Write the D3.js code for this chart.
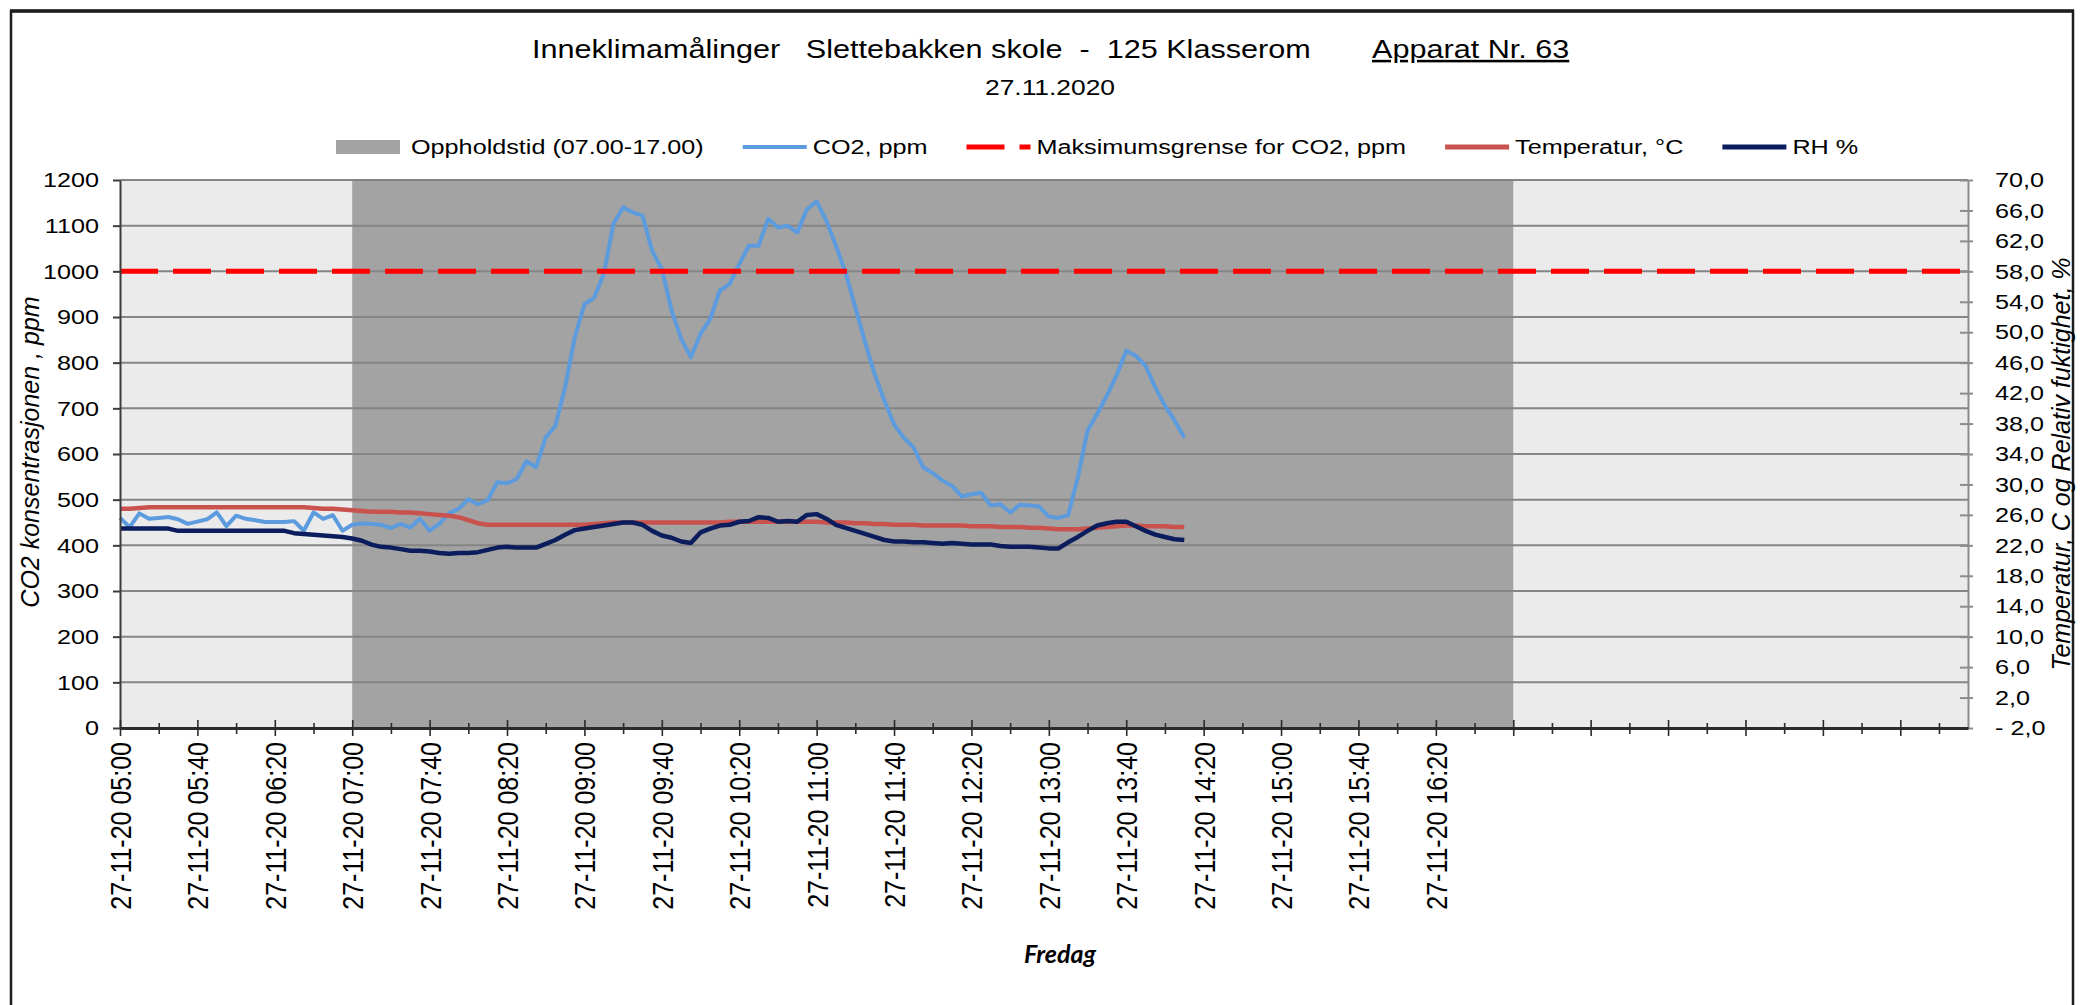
<!DOCTYPE html>
<html>
<head>
<meta charset="utf-8">
<script src="https://cdn.jsdelivr.net/npm/d3@7"></script>
<style>
    body { margin: 0; background: #fff; }
    svg text { font-family: "Liberation Sans", Arial, sans-serif; fill: #000; }
</style>
</head>
<body>
<svg id="chart" width="2084" height="1005"></svg>
<script>
// 5-minute readings from 05:00, one per category slot
const co2 = [460, 440, 470, 458, 460, 462, 457, 447, 452, 457, 472, 442, 465, 458, 455, 451, 451, 451, 453, 432,
    472, 458, 466, 432, 445, 448, 447, 445, 438, 447, 439, 458, 432, 447, 470, 480, 501, 490, 499, 538,
    536, 545, 584, 571, 636, 662, 746, 855, 928, 942, 994, 1104, 1140, 1129, 1122, 1045, 1005, 915, 852, 812,
    863, 896, 958, 972, 1016, 1056, 1056, 1115, 1096, 1100, 1085, 1136, 1153, 1111, 1056, 997, 921, 845, 775, 717,
    665, 636, 615, 571, 558, 542, 530, 507, 512, 515, 487, 490, 472, 489, 487, 485, 463, 460, 466, 549,
    651, 688, 728, 772, 826, 815, 793, 746, 706, 673, 636];

const temperature = [26.8, 26.8, 26.9, 27.0, 27.0, 27.0, 27.0, 27.0, 27.0, 27.0, 27.0, 27.0, 27.0, 27.0, 27.0, 27.0, 27.0, 27.0, 27.0, 27.0,
    26.9, 26.8, 26.8, 26.7, 26.6, 26.5, 26.4, 26.4, 26.4, 26.3, 26.3, 26.2, 26.1, 26.0, 25.9, 25.7, 25.3, 24.9, 24.7, 24.7,
    24.7, 24.7, 24.7, 24.7, 24.7, 24.7, 24.7, 24.7, 24.7, 24.8, 24.9, 25.0, 25.0, 25.0, 25.0, 25.0, 25.0, 25.0, 25.0, 25.0,
    25.0, 25.0, 25.0, 25.1, 25.1, 25.1, 25.1, 25.1, 25.1, 25.1, 25.1, 25.1, 25.1, 25.0, 25.0, 25.0, 24.9, 24.9, 24.8, 24.8,
    24.7, 24.7, 24.7, 24.6, 24.6, 24.6, 24.6, 24.6, 24.5, 24.5, 24.5, 24.4, 24.4, 24.4, 24.3, 24.3, 24.2, 24.1, 24.1, 24.1,
    24.2, 24.3, 24.4, 24.5, 24.6, 24.6, 24.5, 24.5, 24.5, 24.4, 24.4];

const humidity = [24.2, 24.2, 24.2, 24.2, 24.2, 24.2, 23.9, 23.9, 23.9, 23.9, 23.9, 23.9, 23.9, 23.9, 23.9, 23.9, 23.9, 23.9, 23.6, 23.5,
    23.4, 23.3, 23.2, 23.1, 22.9, 22.6, 22.1, 21.8, 21.7, 21.5, 21.3, 21.3, 21.2, 21.0, 20.9, 21.0, 21.0, 21.1, 21.4, 21.7,
    21.8, 21.7, 21.7, 21.7, 22.2, 22.7, 23.4, 24.0, 24.2, 24.4, 24.6, 24.8, 25.0, 25.0, 24.7, 23.9, 23.3, 23.0, 22.5, 22.3,
    23.7, 24.2, 24.6, 24.7, 25.1, 25.2, 25.7, 25.6, 25.1, 25.2, 25.1, 26.0, 26.1, 25.5, 24.7, 24.3, 23.9, 23.5, 23.1, 22.7,
    22.5, 22.5, 22.4, 22.4, 22.3, 22.2, 22.3, 22.2, 22.1, 22.1, 22.1, 21.9, 21.8, 21.8, 21.8, 21.7, 21.6, 21.6, 22.4, 23.1,
    23.9, 24.6, 24.9, 25.1, 25.1, 24.5, 23.9, 23.4, 23.1, 22.8, 22.7];

const co2Limit = 1000;
const occupiedFrom = "07:00";
const occupiedTo = "17:00";

const tickLabels = ["27-11-20 05:00", "27-11-20 05:40", "27-11-20 06:20", "27-11-20 07:00", "27-11-20 07:40",
    "27-11-20 08:20", "27-11-20 09:00", "27-11-20 09:40", "27-11-20 10:20", "27-11-20 11:00", "27-11-20 11:40",
    "27-11-20 12:20", "27-11-20 13:00", "27-11-20 13:40", "27-11-20 14:20", "27-11-20 15:00", "27-11-20 15:40",
    "27-11-20 16:20"];

const seriesNames = ["Oppholdstid (07.00-17.00)", "CO2, ppm", "Maksimumsgrense for CO2, ppm", "Temperatur, °C", "RH %"];

// category slots 05:00 .. 20:55
const fmtTime = d3.timeFormat("%H:%M");
const slots = d3.range(192).map(i => fmtTime(new Date(2020, 10, 27, 5, i * 5)));

const colors = {
    band: "#a3a3a3",
    plot: "#ebebeb",
    co2: "#5b9bde",
    limit: "#ff0000",
    temp: "#c9524e",
    rh: "#0b1d5c"
};
const TX = 1.2; // the lettering is a bit wider than it is tall
const limitDash = "38,15";

const svg = d3.select("#chart");

var margin = { top: 180, right: 116, bottom: 277, left: 120 },
    width = 2084 - margin.left - margin.right,
    height = 1005 - margin.top - margin.bottom;

const x = d3.scalePoint().domain(slots).range([margin.left, margin.left + width]);
const yL = d3.scaleLinear().domain([0, 1200]).range([margin.top + height, margin.top]);
const yR = d3.scaleLinear().domain([-2, 70]).range([margin.top + height, margin.top]);

function stretchText(sel, tx, ty) {
    sel.attr("transform", `translate(${tx},${ty}) scale(${TX},1)`);
}

// frame
svg.append("rect")
    .attr("x", 11).attr("y", 11)
    .attr("width", 2062).attr("height", 1010)
    .attr("fill", "none")
    .attr("stroke", "#1e1e1e")
    .attr("stroke-width", 2.5);
svg.append("line")
    .attr("x1", 10).attr("x2", 2074).attr("y1", 11).attr("y2", 11)
    .attr("stroke", "#1e1e1e").attr("stroke-width", 3.5);

// titles
svg.append("text")
    .text("Inneklimamålinger   Slettebakken skole  -  125 Klasserom")
    .style("white-space", "pre")
    .attr("font-size", 25.5)
    .call(stretchText, 532, 58);
svg.append("text")
    .text("Apparat Nr. 63")
    .attr("font-size", 25.5)
    .style("text-decoration", "underline")
    .call(stretchText, 1372, 58);
svg.append("text")
    .text("27.11.2020")
    .attr("font-size", 22)
    .attr("text-anchor", "middle")
    .call(stretchText, 1050, 95);

// plot background and occupied hours
svg.append("rect")
    .attr("x", margin.left).attr("y", margin.top)
    .attr("width", width).attr("height", height)
    .attr("fill", colors.plot);
svg.append("rect")
    .attr("x", x(occupiedFrom)).attr("y", margin.top)
    .attr("width", x(occupiedTo) - x(occupiedFrom)).attr("height", height)
    .attr("fill", colors.band);

// gridlines
svg.append("g")
    .selectAll("line")
    .data(d3.range(100, 1201, 100))
    .join("line")
    .attr("x1", x.range()[0]).attr("x2", x.range()[1])
    .attr("y1", d => yL(d)).attr("y2", d => yL(d))
    .attr("stroke", "#858585")
    .attr("stroke-width", 2);

// series
const co2Line = d3.line().x((d, i) => x(slots[i])).y(d => yL(d));
const rightLine = d3.line().x((d, i) => x(slots[i])).y(d => yR(d));

svg.append("path")
    .datum(co2)
    .attr("d", co2Line)
    .attr("fill", "none")
    .attr("stroke", colors.co2)
    .attr("stroke-width", 4)
    .attr("stroke-linejoin", "round");

svg.append("line")
    .attr("x1", x(slots[0])).attr("x2", x(slots[slots.length - 1]))
    .attr("y1", yL(co2Limit)).attr("y2", yL(co2Limit))
    .attr("stroke", colors.limit)
    .attr("stroke-width", 5)
    .attr("stroke-dasharray", limitDash);

svg.append("path")
    .datum(temperature)
    .attr("d", rightLine)
    .attr("fill", "none")
    .attr("stroke", colors.temp)
    .attr("stroke-width", 4.5)
    .attr("stroke-linejoin", "round");

svg.append("path")
    .datum(humidity)
    .attr("d", rightLine)
    .attr("fill", "none")
    .attr("stroke", colors.rh)
    .attr("stroke-width", 4.5)
    .attr("stroke-linejoin", "round");

// left axis
const axL = svg.append("g")
    .attr("transform", `translate(${margin.left},0)`)
    .call(d3.axisLeft(yL).tickValues(d3.range(0, 1201, 100)).tickSize(7).tickSizeOuter(0).tickPadding(14)
        .tickFormat(d3.format("d")));
axL.attr("font-size", null).attr("font-family", null);
axL.select(".domain").attr("stroke", "#3c3c3c").attr("stroke-width", 2);
axL.selectAll(".tick line").attr("stroke", "#3c3c3c").attr("stroke-width", 2);
axL.selectAll(".tick text")
    .attr("font-size", 21)
    .attr("fill", "#000")
    .each(function () {
        const t = d3.select(this);
        const tx = +t.attr("x");
        t.attr("x", null).call(stretchText, tx, 0);
    });

// right axis
const fmtR = d3.format(".1f");
const axR = svg.append("g")
    .attr("transform", `translate(${margin.left + width},0)`)
    .call(d3.axisRight(yR).tickValues(d3.range(-2, 71, 4)).tickSize(5).tickSizeOuter(0).tickPadding(22)
        .tickFormat(d => (d < 0 ? "- " + fmtR(-d) : fmtR(d)).replace(".", ",")));
axR.attr("font-size", null).attr("font-family", null);
axR.select(".domain").attr("stroke", "#8c8c8c").attr("stroke-width", 2);
axR.selectAll(".tick line").attr("x1", -8).attr("stroke", "#8c8c8c").attr("stroke-width", 2);
axR.selectAll(".tick text")
    .attr("font-size", 21)
    .attr("fill", "#000")
    .each(function () {
        const t = d3.select(this);
        const tx = +t.attr("x");
        t.attr("x", null).call(stretchText, tx, 0);
    });

// bottom axis
const labelSet = new Set(tickLabels);
const axB = svg.append("g")
    .attr("transform", `translate(0,${margin.top + height})`)
    .call(d3.axisBottom(x)
        .tickValues(slots.filter((d, i) => i % 4 === 0))
        .tickSizeOuter(0)
        .tickFormat(d => labelSet.has("27-11-20 " + d) ? "27-11-20 " + d : ""));
axB.attr("font-size", null).attr("font-family", null);
axB.select(".domain").attr("stroke", "#2b2b2b").attr("stroke-width", 3);
axB.selectAll(".tick line")
    .attr("y1", (d, i) => i % 2 === 0 ? -8 : -5)
    .attr("y2", (d, i) => i % 2 === 0 ? 8 : 6)
    .attr("stroke", "#2b2b2b")
    .attr("stroke-width", 1.6);
axB.selectAll(".tick text")
    .attr("font-size", 25)
    .attr("fill", "#000")
    .attr("y", 0)
    .attr("dy", "0.35em")
    .attr("text-anchor", "end")
    .attr("transform", `translate(0,14) rotate(-90) scale(1,${TX})`);

// axis titles
svg.append("text")
    .text("CO2 konsentrasjonen , ppm")
    .attr("font-size", 25)
    .attr("font-style", "italic")
    .attr("text-anchor", "middle")
    .attr("transform", `translate(39,${yL(600) - 2}) rotate(-90)`);
svg.append("text")
    .text("Temperatur, C og Relativ fuktighet, %")
    .attr("font-size", 25)
    .attr("font-style", "italic")
    .attr("text-anchor", "middle")
    .attr("transform", `translate(2070,${yL(600) + 10}) rotate(-90)`);
svg.append("text")
    .text("Fredag")
    .style("font-family", "Lato, sans-serif")
    .attr("font-size", 25)
    .attr("font-weight", "bold")
    .attr("font-style", "italic")
    .attr("text-anchor", "middle")
    .attr("transform", "translate(1060,963)");

// legend
const legendKinds = [
    { kind: "rect", color: colors.band },
    { kind: "line", color: colors.co2, w: 4 },
    { kind: "line", color: colors.limit, w: 5, dash: limitDash },
    { kind: "line", color: colors.temp, w: 5 },
    { kind: "line", color: colors.rh, w: 5 }
];
const legend = svg.append("g");
let lx = 336;
const ly = 147;
seriesNames.forEach((name, i) => {
    const k = legendKinds[i];
    if (k.kind === "rect") {
        legend.append("rect")
            .attr("x", lx).attr("y", ly - 7)
            .attr("width", 64).attr("height", 14)
            .attr("fill", k.color);
    } else {
        legend.append("line")
            .attr("x1", lx).attr("x2", lx + 64)
            .attr("y1", ly).attr("y2", ly)
            .attr("stroke", k.color)
            .attr("stroke-width", k.w)
            .attr("stroke-dasharray", k.dash || null);
    }
    const tx = lx + 64 + (k.kind === "rect" ? 11 : 6);
    const t = legend.append("text")
        .text(name)
        .attr("font-size", 21)
        .call(stretchText, tx, ly + 7);
    const w = t.node().getComputedTextLength() * TX;
    lx = tx + w + 39;
});
</script>
</body>
</html>
